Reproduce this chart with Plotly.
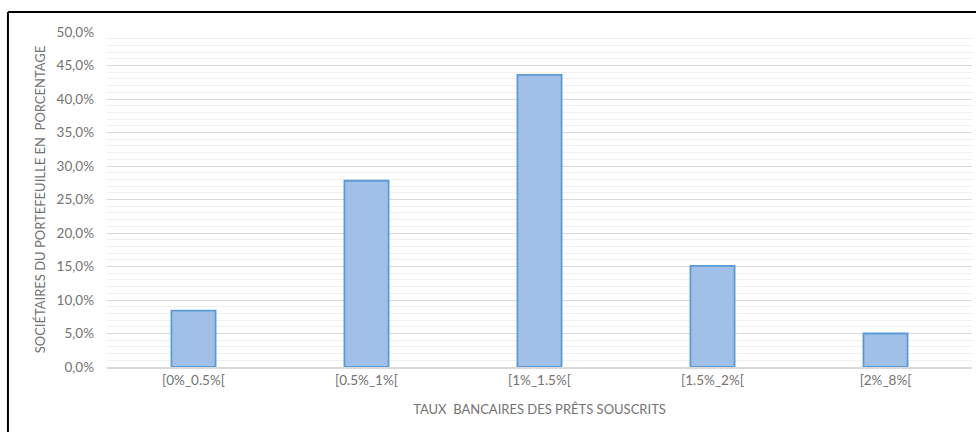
import plotly.graph_objects as go

# Répartition des sociétaires par tranche de taux
categories = ["[0%_0.5%[", "[0.5%_1%[", "[1%_1.5%[", "[1.5%_2%[", "[2%_8%["]
shares = [8.4, 27.8, 43.6, 15.1, 5.0]
y_ticks = [0, 5, 10, 15, 20, 25, 30, 35, 40, 45, 50]
y_tick_labels = [f"{v:.1f}%".replace(".", ",") for v in y_ticks]

FONT = "Lato, 'Open Sans', sans-serif"
GREY = "#737373"

fig = go.Figure(
    go.Bar(
        x=categories,
        y=shares,
        marker=dict(color="#a0c0e8", line=dict(color="#5b9bd5", width=1.8)),
        hovertemplate="%{x}: %{y:.1f}%<extra></extra>",
    )
)

# Cadre du graphique (bords haut et gauche)
frame_left, frame_top = -0.1145, 1.0597
frame = [
    dict(type="line", xref="paper", yref="paper",
         x0=frame_left, x1=1.0046, y0=frame_top, y1=frame_top,
         line=dict(color="black", width=2)),
    dict(type="line", xref="paper", yref="paper",
         x0=frame_left, x1=frame_left, y0=-0.3, y1=frame_top,
         line=dict(color="black", width=2)),
]

fig.update_layout(
    width=976,
    height=432,
    margin=dict(l=107, r=4, t=32, b=65),
    paper_bgcolor="white",
    plot_bgcolor="white",
    bargap=0.745,
    showlegend=False,
    font=dict(family=FONT, size=13, color=GREY),
    xaxis=dict(
        showgrid=False,
        showline=True,
        linecolor="#d9d9d9",
        linewidth=2,
        ticks="",
        tickfont=dict(size=13.5, color=GREY),
        title=dict(
            text="TAUX  BANCAIRES DES PRÊTS SOUSCRITS",
            font=dict(size=13, color=GREY),
            standoff=18,
        ),
    ),
    yaxis=dict(
        range=[0, 50],
        tickvals=y_ticks,
        ticktext=y_tick_labels,
        ticks="",
        ticklabelstandoff=12,
        showline=False,
        zeroline=False,
        gridcolor="#d9d9d9",
        gridwidth=1,
        minor=dict(dtick=1, showgrid=True, gridcolor="#f0f0f0", gridwidth=1),
        tickfont=dict(size=13.5, color=GREY),
        title=dict(
            text="SOCIÉTAIRES DU PORTEFEUILLE EN  PORCENTAGE",
            font=dict(size=13, color=GREY),
            standoff=8,
        ),
    ),
    shapes=frame,
)

fig.write_html("out.html", config={"displayModeBar": False})
